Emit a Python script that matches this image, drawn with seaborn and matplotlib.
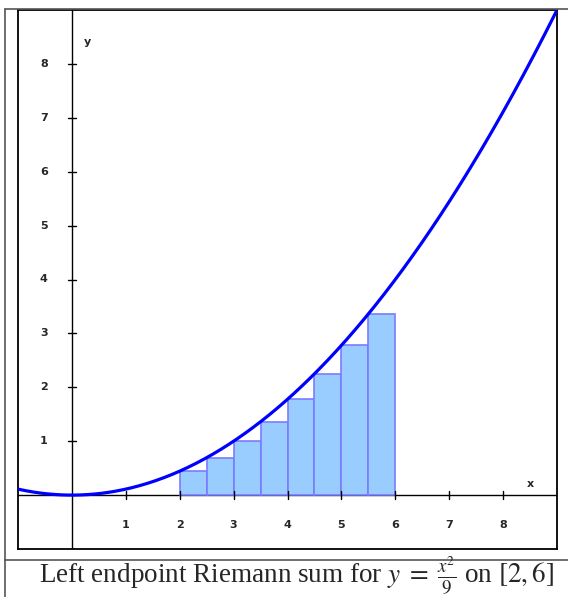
import numpy as np
import pandas as pd
import matplotlib
matplotlib.use("Agg")
import matplotlib.pyplot as plt
import seaborn as sns
from matplotlib.lines import Line2D

# Riemann rectangles: left endpoints, width and heights f(left)
rect_left = [2.0, 2.5, 3.0, 3.5, 4.0, 4.5, 5.0, 5.5]
rect_width = 0.5
rect_height = [0.444, 0.694, 1.0, 1.361, 1.778, 2.25, 2.778, 3.361]

x_ticks = [1, 2, 3, 4, 5, 6, 7, 8]
y_ticks = [1, 2, 3, 4, 5, 6, 7, 8]

# The function y = x^2 / 9 on the visible window
curve_x = np.linspace(-1, 9, 400)
curve = pd.DataFrame({"x": curve_x, "y": curve_x ** 2 / 9})

sns.set_style("white")
plt.rcParams["mathtext.fontset"] = "stix"

W, H = 568, 597
fig = plt.figure(figsize=(W / 100, H / 100), dpi=100)
ax = fig.add_axes([18 / W, (H - 549) / H, 539 / W, 539 / H])

ax.bar(rect_left, rect_height, width=rect_width, align="edge",
       color="#99ccff", edgecolor="#7b7bff", linewidth=1.2, zorder=2)
sns.lineplot(data=curve, x="x", y="y", ax=ax, color="#0000ff",
             linewidth=2.3, zorder=3, clip_on=True)

ax.set_xlim(-1, 9)
ax.set_ylim(-1, 9)
ax.set_xticks([])
ax.set_yticks([])
ax.set_xlabel("")
ax.set_ylabel("")
for s in ax.spines.values():
    s.set_color("black")
    s.set_linewidth(1.3)

# coordinate axes through the origin
ax.axhline(0, color="black", linewidth=1.0, zorder=1)
ax.axvline(0, color="black", linewidth=1.0, zorder=1)

tick_font = dict(fontsize=8, fontweight="heavy", family="DejaVu Sans")
for t in x_ticks:
    ax.plot([t, t], [-0.07, 0.07], color="black", linewidth=1.0, zorder=4)
    ax.text(t, -0.55, str(t), ha="center", va="center", **tick_font)
for t in y_ticks:
    ax.plot([-0.07, 0.07], [t, t], color="black", linewidth=1.0, zorder=4)
    ax.text(-0.52, t, str(t), ha="center", va="center", **tick_font)
ax.text(0.28, 8.4, "y", ha="center", va="center", **tick_font)
ax.text(8.5, 0.2, "x", ha="center", va="center", **tick_font)

# surrounding table lines and caption
def fig_line(x0, y0, x1, y1, color="#555555", lw=1.2):
    fig.add_artist(Line2D([x0 / W, x1 / W], [1 - y0 / H, 1 - y1 / H],
                          color=color, linewidth=lw))

fig_line(5, 9, W, 9)
fig_line(5, 9, 5, H)
fig_line(5, 560, W, 560)

fig.text(296 / W, 1 - 576 / H,
         r"Left endpoint Riemann sum for $y\;=\;\frac{x^2}{9}$ on $[2,6]$",
         ha="center", va="center", fontsize=19.5, family="Liberation Serif")

fig.savefig("out.png", dpi=100)
